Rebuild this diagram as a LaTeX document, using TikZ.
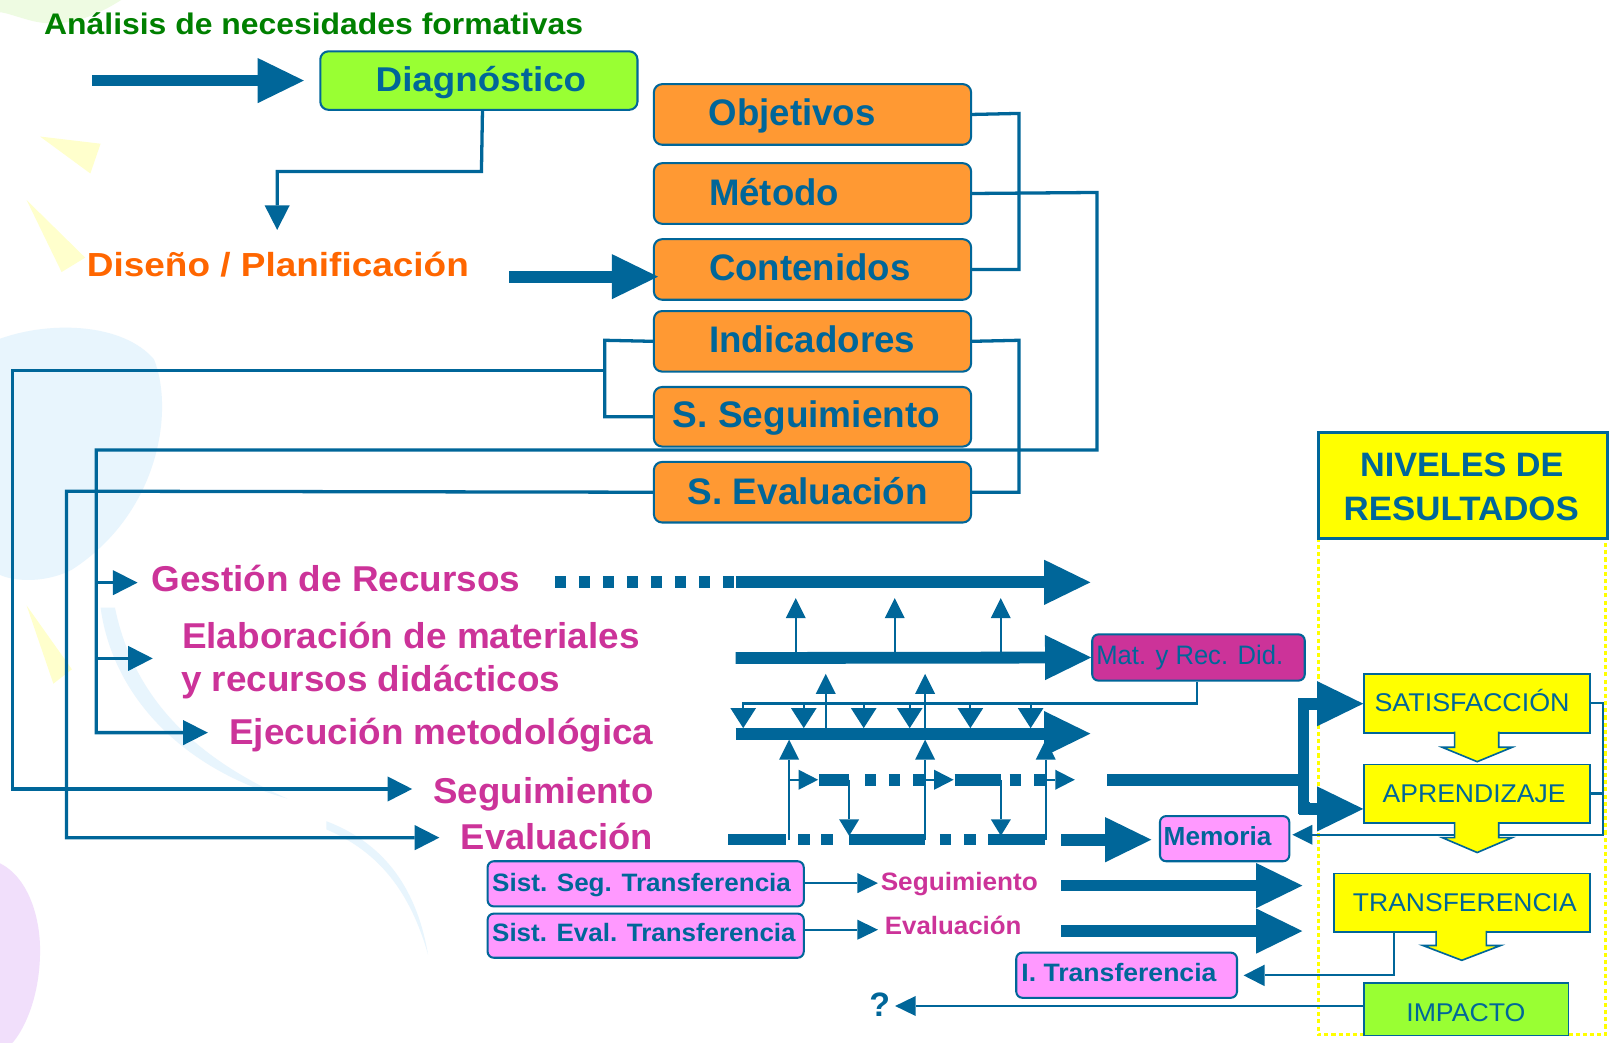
\documentclass[tikz,border=0pt]{standalone}
\usepackage{fontspec}
\setmainfont{Liberation Sans}
\usepackage{graphicx}
\usetikzlibrary{arrows.meta}
\definecolor{blu}{HTML}{006699}
\definecolor{grn}{HTML}{008000}
\definecolor{org}{HTML}{FF9933}
\definecolor{orgtxt}{HTML}{FF6600}
\definecolor{mag}{HTML}{CC3399}
\definecolor{pnk}{HTML}{FF99FF}
\definecolor{lime}{HTML}{99FF33}
\definecolor{yel}{HTML}{FFFF00}
\definecolor{bgblue}{HTML}{E8F5FD}
\definecolor{bglav}{HTML}{F1DFFB}
\definecolor{bgyel}{HTML}{FFFFCC}
\definecolor{bggrn}{HTML}{EEFBE2}
\newcommand{\Tw}[3]{\resizebox{#1pt}{\height}{\fontsize{#2pt}{#2pt}\selectfont #3}}
\begin{document}
\begin{tikzpicture}[x=1pt,y=-1pt,
  txt/.style={anchor=base west, inner sep=0pt, outer sep=0pt},
  rbox/.style={draw=blu, line width=2pt, rounded corners=8pt, anchor=north west, inner sep=0pt},
  sbox/.style={draw=blu, line width=2pt, rounded corners=6pt, anchor=north west, inner sep=0pt},
  ybox/.style={draw=blu, line width=1.6pt, fill=yel, anchor=north west, inner sep=0pt},
  thk/.style={draw=blu, line width=11.5pt},
  bighead/.style={-{Triangle[length=45pt,width=44pt,line width=0pt]}},
  conn/.style={draw=blu, line width=3.2pt},
  midhead/.style={-{Triangle[length=24pt,width=24.5pt,line width=0pt]}},
  fine/.style={draw=blu, line width=2pt},
  tinyhead/.style={-{Triangle[length=19.5pt,width=19.5pt,line width=0pt]}},
  ydot/.style={draw=yel, line width=3pt, dash pattern=on 4pt off 3pt}
]
\useasboundingbox (0,0) rectangle (1568.4,1016);
\fill[white] (0,0) rectangle (1568.4,1016);

% faint background decorations
\fill[bggrn] (0,0) -- (118,0) .. controls (90,18) and (60,28) .. (30,20) .. controls (15,16) and (5,12) .. (0,12) -- cycle;
\fill[bgyel] (39,133) -- (98,140) -- (88,169) -- cycle;
\fill[bgyel] (26,195) -- (83,251) -- (60,265) -- cycle;
\fill[bgyel] (26,590) -- (70,652) -- (52,666) -- cycle;
\fill[bgblue] (0,330) .. controls (50,312) and (120,315) .. (150,350) .. controls (170,400) and (155,500) .. (70,555) .. controls (40,570) and (10,565) .. (0,560) -- cycle;
\fill[bgblue] (98,592) .. controls (110,680) and (180,750) .. (280,778) .. controls (190,738) and (130,680) .. (112,592) -- cycle;
\fill[bgblue] (318,800) .. controls (370,820) and (405,860) .. (417,930) .. controls (400,870) and (370,830) .. (318,808) -- cycle;
\fill[bglav] (0,841) .. controls (28,855) and (40,895) .. (39,930) .. controls (38,975) and (22,1005) .. (12,1016) -- (0,1016) -- cycle;

% yellow dotted frame
\draw[ydot] (1284,524) -- (1284,1008) -- (1564,1008) -- (1564,524);

% boxes
\node[rbox, fill=lime, minimum width=309pt, minimum height=57pt] (diag) at (311,49) {};
\node[rbox, fill=org, minimum width=309pt, minimum height=59pt] (obj) at (636,81) {};
\node[rbox, fill=org, minimum width=309pt, minimum height=59pt] (met) at (636,158) {};
\node[rbox, fill=org, minimum width=309pt, minimum height=59pt] (con) at (636,232) {};
\node[rbox, fill=org, minimum width=309pt, minimum height=59pt] (ind) at (636,302) {};
\node[rbox, fill=org, minimum width=309pt, minimum height=58pt] (sseg) at (636,376) {};
\node[rbox, fill=org, minimum width=309pt, minimum height=59pt] (seval) at (636,449) {};
\node[draw=blu, line width=3pt, fill=yel, anchor=north west, inner sep=0pt, minimum width=281pt, minimum height=103pt] (niv) at (1283,420) {};

% connectors (thin)
\draw[conn] ([xshift=3.5pt]diag.south) -- (469,167) -- (270,167) -- (270,224) [midhead];
\coordinate (cDis) at (270,224);
\draw[conn] (obj.east) -- (992.7,110.5) |- (con.east);
\draw[conn] (ind.east) -- (992.7,331.5) |- (seval.east);
\draw[conn] (ind.west) -- (589.2,331.5) |- (sseg.west);
\coordinate (cGe) at (134,567.6);
\coordinate (cEl) at (148.8,641.4);
\coordinate (cEj) at (202.4,713.7);
\coordinate (cSg) at (401.5,768.6);
\coordinate (cEv) at (428,816);
\draw[conn, midhead] (met.east) -- (1068.7,187.5) -- (1068.7,438.3) -- (93.8,438.3) -- (93.8,713.7) -- (cEj);
\draw[conn, midhead] (93.8,567.6) -- (cGe);
\draw[conn, midhead] (93.8,641.4) -- (cEl);
\draw[conn, midhead] (589.2,361) -- (12.5,361) |- (cSg);
\draw[conn, midhead] (seval.west) -- (64.8,478.5) |- (cEv);

% big arrows top
\coordinate (a1s) at (90,78.5); \coordinate (a1t) at (296,78.5);
\draw[thk, bighead] (a1s) -- (a1t);
\coordinate (a2s) at (496,269.5);
\draw[thk, bighead] (a2s) -- (641,269.5);

% result boxes
\node[sbox, fill=mag, minimum width=207pt, minimum height=45pt] (mat) at (1063,617) {};
\node[sbox, fill=pnk, minimum width=126pt, minimum height=44pt] (mem) at (1129,794) {};
\node[sbox, fill=pnk, minimum width=308pt, minimum height=44pt] (sst) at (474,838) {};
\node[sbox, fill=pnk, minimum width=308pt, minimum height=43pt] (set) at (474,889) {};
\node[sbox, fill=pnk, minimum width=215pt, minimum height=44pt] (itr) at (989,927) {};

% feedback lines on the right (under the yellow arrows)
\coordinate (cMem) at (1259,813.2);
\draw[fine, tinyhead] (1548,684.5) -- (1562,684.5) -- (1562,813.2) -- (cMem);
\draw[fine] (1548,773) -- (1562,773);
\coordinate (cIt) at (1211.5,950.2);
\draw[fine, -{Triangle[length=20.5pt,width=21pt,line width=0pt]}] (1357.6,906) -- (1357.6,950.2) -- (cIt);
\coordinate (cQ) at (872,980);
\draw[draw=blu, line width=2.5pt, -{Triangle[length=20pt,width=19.5pt,line width=0pt]}] (1328,980) -- (cQ);

\node[ybox, minimum width=220pt, minimum height=57pt] (sat) at (1328,656) {};
\node[ybox, minimum width=220pt, minimum height=57pt] (apr) at (1328,744) {};
\node[ybox, minimum width=249pt, minimum height=57pt] (tra) at (1299,850) {};
\node[draw=blu, line width=1.6pt, fill=lime, anchor=north west, inner sep=0pt, minimum width=199pt, minimum height=51pt] (imp) at (1328,957) {};

% yellow block arrows
\foreach \ya/\yb/\yc/\xa/\xb/\xc/\xd/\xm in {712.2/728/742/1417/1460/1405/1473/1439, 800.2/816/830.5/1417/1460/1405/1473/1439, 906.2/921/935.5/1399/1448/1386/1462/1424}{
  \fill[yel] (\xa,\ya) -- (\xa,\yb) -- (\xc,\yb) -- (\xm,\yc) -- (\xd,\yb) -- (\xb,\yb) -- (\xb,\ya) -- cycle;
  \draw[blu, line width=1.6pt, line join=miter] (\xa,\ya+0.6) -- (\xa,\yb) -- (\xc,\yb) -- (\xm,\yc) -- (\xd,\yb) -- (\xb,\yb) -- (\xb,\ya+0.6);
}

% middle flow lines
\draw[thk, dash pattern=on 11pt off 12.4pt] (540.5,567.3) -- (715.3,567.3);
\coordinate (gS) at (716.5,567.3); \coordinate (gT) at (1062.2,567.3);
\draw[thk, bighead] (gS) -- (gT);
\coordinate (eS) at (716.5,641);
\draw[thk, bighead] (eS) -- (mat.west);
\coordinate (jS) at (716.5,714.7); \coordinate (jT) at (1062.2,714.7);
\draw[thk, bighead] (jS) -- (jT);
\foreach \x in {775.2,871.6,974.9} \draw[fine, tinyhead] (\x,635.3) -- (\x,582.7);
\foreach \x in {804.4,901.2} \draw[fine, tinyhead] (\x,708.7) -- (\x,656.4);
\draw[fine, -{Triangle[length=19.5pt,width=25pt,line width=0pt]}] ([xshift=-1pt]mat.south) |- (724,685.3) -- (724,709.3);
\foreach \x in {783,841.4,886.2,945.3,1004} \draw[fine, -{Triangle[length=19.5pt,width=25pt,line width=0pt]}] (\x,685.3) -- (\x,709.3);
% Seguimiento row
\foreach \a/\b in {798/827.2,842.4/853,866/876.5,889.5/901,930/975,983.6/995,1007.3/1019.4}
  \draw[thk] (\a,759.6) -- (\b,759.6);
\foreach \a/\b in {768.7/797,901.2/929,1018.7/1047}
  \draw[fine, -{Triangle[length=19pt,width=19.5pt,line width=0pt]}] (\a,759.6) -- (\b,759.6);
\foreach \x in {827.2,975} \draw[fine, -{Triangle[length=16pt,width=19.5pt,line width=0pt]}] (\x,759.6) -- (\x,814.2);
% Evaluacion row
\foreach \a/\b in {709.3/765.5,777.5/789,800/811.6,827/901.2,915.5/926.8,939/950.5,962.5/1017.7}
  \draw[draw=blu, line width=10.5pt] (\a,818) -- (\b,818);
\foreach \x in {768.7,901.2,1018.7} \draw[fine, tinyhead] (\x,818) -- (\x,720.5);
\coordinate (mS) at (1034,818); \coordinate (mT) at (1121.6,818);
\draw[draw=blu, line width=12pt, bighead] (mS) -- (mT);
% bracket to results
\coordinate (bS) at (1078.4,759.6);
\draw[thk] (bS) -- (1270,759.6);
\draw[thk] (1270,680) -- (1270,793);
\draw[white, line width=1.5pt] (1275.5,692) -- (1275.5,781);
\coordinate (cSat) at (1328,685.5); \coordinate (cApr) at (1328,788);
\draw[thk, bighead] (1265,685.5) -- (cSat);
\draw[thk, bighead] (1265,788) -- (cApr);
% Sist arrows
\coordinate (sT1) at (855.3,860.3); \coordinate (sT2) at (855.3,905.7);
\draw[fine, -{Triangle[length=20pt,width=19.5pt,line width=0pt]}] (782.4,860.3) -- (sT1);
\draw[fine, -{Triangle[length=20pt,width=19.5pt,line width=0pt]}] (782.4,905.7) -- (sT2);
\coordinate (tS1) at (1033.7,862.7); \coordinate (tT1) at (1268.7,862.7);
\coordinate (tS2) at (1033.7,907); \coordinate (tT2) at (1268.7,907);
\draw[thk, bighead] (tS1) -- (tT1);
\draw[thk, bighead] (tS2) -- (tT2);

% texts
\node[txt, text=grn] (tAna) at (43,33.5) {\Tw{525}{29}{\bfseries Análisis de necesidades formativas}};
\node[txt, text=blu] (tDia) at (366,89) {\Tw{205}{33.5}{\bfseries Diagnóstico}};
\node[txt, text=orgtxt] (tDis) at (84.7,269.5) {\Tw{372}{32.5}{\bfseries Diseño / Planificación}};
\node[txt, text=blu] (tObj) at (690.5,122.4) {\Tw{162.5}{36}{\bfseries Objetivos}};
\node[txt, text=blu] (tMet) at (690.8,199.8) {\Tw{126.6}{36}{\bfseries Método}};
\node[txt, text=blu] (tCon) at (690.8,273.5) {\Tw{196.2}{36}{\bfseries Contenidos}};
\node[txt, text=blu] (tInd) at (690.8,343.7) {\Tw{200.8}{36}{\bfseries Indicadores}};
\node[txt, text=blu] (tSS) at (655.6,416.5) {\Tw{260.4}{36}{\bfseries S. Seguimiento}};
\node[txt, text=blu] (tSE) at (670,491) {\Tw{234}{36}{\bfseries S. Evaluación}};
\node[txt, text=mag] (tGes) at (147.4,576) {\Tw{359.6}{35}{\bfseries Gestión de Recursos}};
\node[txt, text=mag] (tEla1) at (177.3,631.4) {\Tw{446}{35}{\bfseries Elaboración de materiales}};
\node[txt, text=mag] (tEla2) at (176.5,674) {\Tw{369.5}{35}{\bfseries y recursos didácticos}};
\node[txt, text=mag] (tEje) at (223.4,725.4) {\Tw{413.2}{35}{\bfseries Ejecución metodológica}};
\node[txt, text=mag] (tSeg) at (422.2,782.4) {\Tw{214.4}{35}{\bfseries Seguimiento}};
\node[txt, text=mag] (tEva) at (449,828) {\Tw{187}{35}{\bfseries Evaluación}};
\node[txt, text=blu] (tSST) at (479.5,868) {\Tw{291}{24.5}{\bfseries Sist. Seg. Transferencia}};
\node[txt, text=blu] (tSET) at (479.5,917) {\Tw{295.5}{24.5}{\bfseries Sist. Eval. Transferencia}};
\node[txt, text=mag] (tSeg2) at (858,867.4) {\Tw{153}{24.5}{\bfseries Seguimiento}};
\node[txt, text=mag] (tEva2) at (862,910.6) {\Tw{133}{24.5}{\bfseries Evaluación}};
\node[txt, text=blu] (tIT) at (995,956) {\Tw{190}{24.5}{\bfseries I. Transferencia}};
\node[txt, text=blu] (tMem) at (1133.6,823.5) {\Tw{105}{25.5}{\bfseries Memoria}};
\node[txt, text=blu] (tMat) at (1068,647) {\Tw{182}{26}{Mat. y Rec. Did.}};
\node[txt, text=blu] (tSat) at (1339,693) {\Tw{190}{25}{SATISFACCIÓN}};
\node[txt, text=blu] (tApr) at (1347,781.7) {\Tw{178}{25}{APRENDIZAJE}};
\node[txt, text=blu] (tTra) at (1318,888) {\Tw{218}{25}{TRANSFERENCIA}};
\node[txt, text=blu] (tImp) at (1370,995) {\Tw{116}{25}{IMPACTO}};
\node[txt, text=blu] (tNiv1) at (1325,464.5) {\Tw{198}{33}{\bfseries NIVELES DE}};
\node[txt, text=blu] (tNiv2) at (1309,507.4) {\Tw{229}{33}{\bfseries RESULTADOS}};
\node[txt, text=blu] (tQ) at (847,990) {\fontsize{33pt}{33pt}\selectfont\bfseries ?};
\end{tikzpicture}
\end{document}
